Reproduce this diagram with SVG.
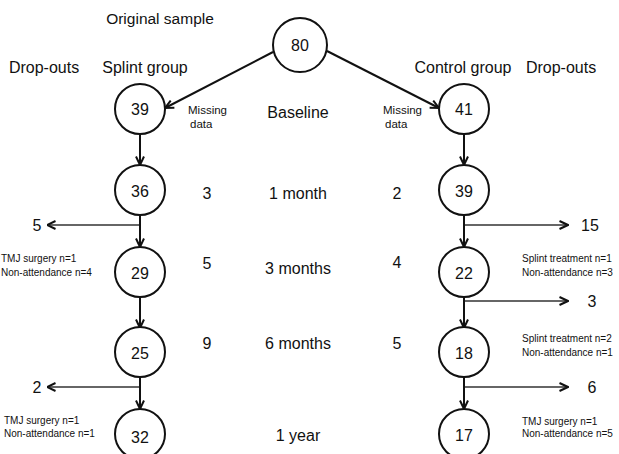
<svg xmlns="http://www.w3.org/2000/svg" width="619" height="454" viewBox="0 0 619 454">
<style>
text{font-family:"Liberation Sans",Arial,sans-serif;fill:#111}
.h{font-size:16px}
.c{text-anchor:middle}
.n{font-size:16px;text-anchor:middle}
.m{font-size:11.5px}
.s{font-size:10px}
.node circle{fill:#fff;stroke:#111;stroke-width:2}
.conn line{stroke:#111;stroke-width:2;fill:none}
.conn line.d{stroke:#333;stroke-width:1.6}
</style>
<defs>
<marker id="ah" viewBox="0 0 10 10" refX="9.5" refY="5" markerWidth="10" markerHeight="10" markerUnits="userSpaceOnUse" orient="auto">
<path d="M1,1 L9.5,5 L1,9" fill="none" stroke="#111" stroke-width="2"/>
</marker>
</defs>
<rect width="619" height="454" fill="#fff"/>
<g id="headers">
<text class="h c" x="160" y="24" style="font-size:15.5px">Original sample</text>
<text class="h c" x="44" y="73">Drop-outs</text>
<text class="h c" x="145" y="73">Splint group</text>
<text class="h c" x="463" y="73">Control group</text>
<text class="h c" x="561" y="73">Drop-outs</text>
</g>
<g id="timepoints">
<text class="h c" x="298" y="118">Baseline</text>
<text class="h c" x="298" y="199">1 month</text>
<text class="h c" x="298" y="274">3 months</text>
<text class="h c" x="298" y="349">6 months</text>
<text class="h c" x="298" y="441">1 year</text>
</g>
<g id="missing">
<text class="m" x="188" y="114">Missing</text>
<text class="m" x="190" y="128">data</text>
<text class="m" x="383" y="114">Missing</text>
<text class="m" x="385" y="128">data</text>
<text class="n" x="207" y="199">3</text>
<text class="n" x="207" y="269">5</text>
<text class="n" x="207" y="349">9</text>
<text class="n" x="397" y="199">2</text>
<text class="n" x="397" y="268">4</text>
<text class="n" x="397" y="349">5</text>
</g>
<g class="conn" id="connectors">
<line x1="273" y1="52" x2="165" y2="108" marker-end="url(#ah)"/>
<line x1="327" y1="51" x2="439" y2="108" marker-end="url(#ah)"/>
<line x1="140" y1="134" x2="140" y2="165" marker-end="url(#ah)"/>
<line x1="140" y1="215" x2="140" y2="247" marker-end="url(#ah)"/>
<line x1="140" y1="297" x2="140" y2="328" marker-end="url(#ah)"/>
<line x1="140" y1="377" x2="140" y2="409" marker-end="url(#ah)"/>
<line x1="464" y1="134" x2="464" y2="165" marker-end="url(#ah)"/>
<line x1="464" y1="215" x2="464" y2="247" marker-end="url(#ah)"/>
<line x1="464" y1="297" x2="464" y2="328" marker-end="url(#ah)"/>
<line x1="464" y1="377" x2="464" y2="409" marker-end="url(#ah)"/>
<line class="d" x1="139" y1="225" x2="47" y2="225" marker-end="url(#ah)"/>
<line class="d" x1="139" y1="387" x2="47" y2="387" marker-end="url(#ah)"/>
<line class="d" x1="465" y1="225" x2="568" y2="225" marker-end="url(#ah)"/>
<line class="d" x1="465" y1="301" x2="568" y2="301" marker-end="url(#ah)"/>
<line class="d" x1="465" y1="387" x2="568" y2="387" marker-end="url(#ah)"/>
</g>
<g id="dropouts">
<text class="n" x="37" y="231">5</text>
<text class="n" x="37" y="393">2</text>
<text class="n" x="590" y="231">15</text>
<text class="n" x="592" y="307">3</text>
<text class="n" x="592" y="393">6</text>
<text class="s" x="1" y="262">TMJ surgery n=1</text>
<text class="s" x="1" y="276">Non-attendance n=4</text>
<text class="s" x="4" y="424">TMJ surgery n=1</text>
<text class="s" x="4" y="437">Non-attendance n=1</text>
<text class="s" x="522" y="262">Splint treatment n=1</text>
<text class="s" x="522" y="276">Non-attendance n=3</text>
<text class="s" x="522" y="342">Splint treatment n=2</text>
<text class="s" x="522" y="356">Non-attendance n=1</text>
<text class="s" x="522" y="425">TMJ surgery n=1</text>
<text class="s" x="522" y="437">Non-attendance n=5</text>
</g>
<g class="node" id="n80"><circle cx="300" cy="45" r="27"/><text class="n" x="300" y="51">80</text></g>
<g class="node" id="s0"><circle cx="140" cy="109" r="25"/><text class="n" x="140" y="115">39</text></g>
<g class="node" id="s1"><circle cx="140" cy="190" r="25"/><text class="n" x="140" y="197">36</text></g>
<g class="node" id="s3"><circle cx="140" cy="272" r="25"/><text class="n" x="140" y="279">29</text></g>
<g class="node" id="s6"><circle cx="140" cy="352" r="25"/><text class="n" x="140" y="359">25</text></g>
<g class="node" id="s12"><circle cx="140" cy="434" r="25"/><text class="n" x="140" y="443">32</text></g>
<g class="node" id="c0"><circle cx="464" cy="109" r="25"/><text class="n" x="464" y="115">41</text></g>
<g class="node" id="c1"><circle cx="464" cy="190" r="25"/><text class="n" x="464" y="197">39</text></g>
<g class="node" id="c3"><circle cx="464" cy="272" r="25"/><text class="n" x="464" y="279">22</text></g>
<g class="node" id="c6"><circle cx="464" cy="352" r="25"/><text class="n" x="464" y="359">18</text></g>
<g class="node" id="c12"><circle cx="464" cy="434" r="25"/><text class="n" x="464" y="441">17</text></g>
</svg>
